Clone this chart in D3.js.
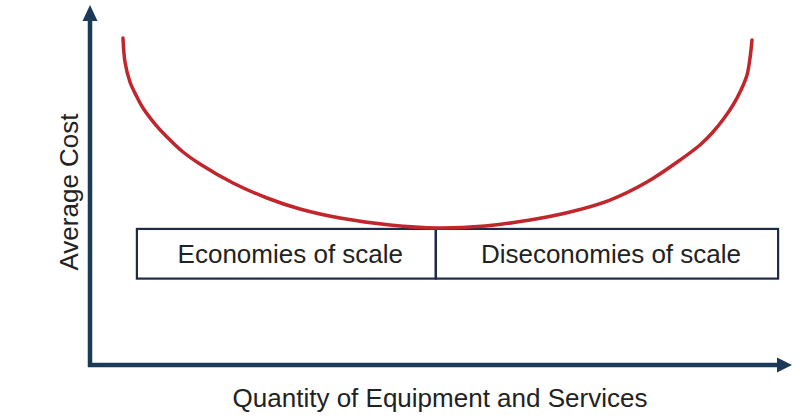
<!DOCTYPE html>
<html>
<head>
<meta charset="utf-8">
<script src="https://cdn.jsdelivr.net/npm/d3@7"></script>
<style>
  html, body { margin: 0; padding: 0; background: #fff; }
  svg { display: block; }
  text { font-family: "Liberation Sans", Arial, Helvetica, sans-serif; fill: #222; }
</style>
</head>
<body>
<svg id="chart" width="800" height="418"></svg>
<script>
// Long-run average cost curve (quantity 0-100, cost 0-100, arbitrary units)
const quantity = [4.71, 5.00, 5.71, 6.71, 7.57, 9.29, 11.00, 13.29, 15.71, 20.43, 25.29, 30.00, 35.71, 42.86, 49.57,
                  56.43, 62.86, 68.57, 74.29, 79.57, 84.29, 87.14, 89.00, 90.71, 91.86, 93.00, 93.86, 94.29, 94.57];
const avgCost  = [90.83, 84.17, 78.61, 74.44, 71.39, 66.94, 63.33, 59.17, 55.83, 50.56, 46.39, 43.33, 40.83, 38.89, 38.06,
                  38.61, 40.28, 42.50, 45.83, 50.83, 56.94, 61.11, 64.72, 68.89, 72.22, 76.39, 80.56, 85.28, 90.28];

// Region labels
const regionLabels = ["Economies of scale", "Diseconomies of scale"];
const regionStart  = [6.7, 49.4];
const regionEnd    = [49.4, 98.3];
const regionTop    = 37.8;
const regionBottom = 24.0;

const xTitle = "Quantity of Equipment and Services";
const yTitle = "Average Cost";

const svg = d3.select("#chart");
const x = d3.scaleLinear().domain([0, 100]).range([90, 790]);
const y = d3.scaleLinear().domain([0, 100]).range([365, 5]);

const axisColor = "#1b3a57";

// Region boxes
const regions = regionLabels.map((l, i) => ({label: l, x0: regionStart[i], x1: regionEnd[i]}));
const rg = svg.append("g");
rg.selectAll("rect").data(regions).join("rect")
  .attr("x", d => x(d.x0))
  .attr("y", y(regionTop))
  .attr("width", d => x(d.x1) - x(d.x0))
  .attr("height", y(regionBottom) - y(regionTop))
  .attr("fill", "none")
  .attr("stroke", "#1d2b48")
  .attr("stroke-width", 2.2);
rg.selectAll("text").data(regions).join("text")
  .attr("x", d => (x(d.x0) + x(d.x1)) / 2 + 4)
  .attr("y", y(regionBottom) - 16)
  .attr("text-anchor", "middle")
  .attr("font-size", 26)
  .text(d => d.label);

// Cost curve
const pts = quantity.map((q, i) => [q, avgCost[i]]);
svg.append("path")
  .datum(pts)
  .attr("fill", "none")
  .attr("stroke", "#c0262c")
  .attr("stroke-width", 3.5)
  .attr("stroke-linecap", "round")
  .attr("d", d3.line().x(d => x(d[0])).y(d => y(d[1])).curve(d3.curveCatmullRom.alpha(0.5)));

// Axes
const [x0, x1] = x.range();
const [yb, yt] = y.range();
svg.append("line")
  .attr("x1", x0).attr("y1", yb + 2).attr("x2", x0).attr("y2", yt + 12)
  .attr("stroke", axisColor).attr("stroke-width", 4.5);
svg.append("line")
  .attr("x1", x0 - 2).attr("y1", yb).attr("x2", x1 - 12).attr("y2", yb)
  .attr("stroke", axisColor).attr("stroke-width", 4.5);
// arrowheads
svg.append("path")
  .attr("d", `M${x0},${yt} L${x0 - 7.5},${yt + 16} L${x0 + 7.5},${yt + 16} Z`)
  .attr("fill", axisColor);
svg.append("path")
  .attr("d", `M${x1 + 2},${yb} L${x1 - 13},${yb - 7.5} L${x1 - 13},${yb + 7.5} Z`)
  .attr("fill", axisColor);

// Axis titles
svg.append("text")
  .attr("x", 440).attr("y", 407)
  .attr("text-anchor", "middle")
  .attr("font-size", 26)
  .text(xTitle);
svg.append("text")
  .attr("transform", "translate(78,192) rotate(-90)")
  .attr("text-anchor", "middle")
  .attr("font-size", 26)
  .text(yTitle);
</script>
</body>
</html>
